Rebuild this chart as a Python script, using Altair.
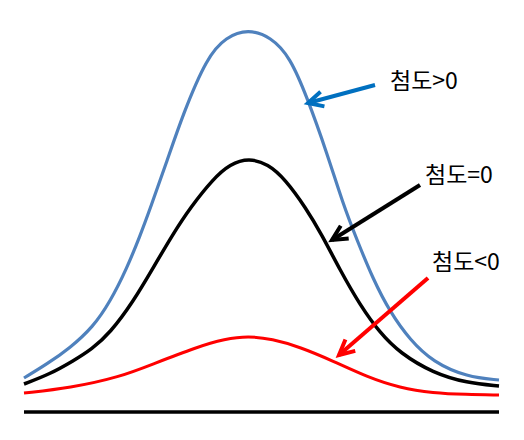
import math
import altair as alt
import pandas as pd

# points (pixel-like units)
blue_x = [24, 47, 70, 93, 110, 127, 140, 150, 167, 183, 207, 226, 248, 271, 290, 307, 327, 343, 357, 373, 390, 410, 433, 467, 499]
blue_y = [378, 364, 348, 327, 302, 268, 236, 209, 161, 114, 57, 37, 29, 37, 57, 97, 153, 204, 240, 279, 312, 340, 362, 377, 380]

black_x = [24, 50, 73, 92, 110, 133, 153, 173, 190, 213, 230, 249, 268, 285, 306, 322, 340, 360, 380, 400, 433, 467, 499]
black_y = [384, 374, 361, 349, 333, 302, 268, 234, 208, 179, 164, 158, 164, 179, 208, 235, 270, 305, 333, 353, 373, 383, 386]

red_x = [24, 70, 120, 153, 197, 225, 248, 272, 300, 333, 367, 400, 433, 466, 499]
red_y = [393, 388, 377, 364, 347, 339, 336, 339, 347, 361, 377, 388, 393, 394.5, 395]

series_names = ["pos", "zero", "neg"]
series_colors = ["#4F81BD", "#000000", "#FF0000"]
series_widths = [3.2, 3.5, 3.0]

# baseline
base_x = [24, 499]
base_y = [412, 412]

# annotations
labels = ["첨도>0", "첨도=0", "첨도<0"]
label_x = [390, 425, 432]
label_y = [82, 176, 263]
arrow_x = [375, 420, 428]
arrow_y = [85, 185, 278]
tip_x = [308, 332, 339]
tip_y = [103, 240, 355]
arrow_colors = ["#0070C0", "#000000", "#FF0000"]

rows = []
for name, color, w, cx, cy in zip(series_names, series_colors, series_widths,
                                 [blue_x, black_x, red_x], [blue_y, black_y, red_y]):
    for i, (x, y) in enumerate(zip(cx, cy)):
        rows.append({"series": name, "x": x, "y": y, "color": color, "w": w, "o": i})
curves = pd.DataFrame(rows)

base_df = pd.DataFrame({"x": base_x, "y": base_y})

ang = []
for ax_, ay_, tx_, ty_ in zip(arrow_x, arrow_y, tip_x, tip_y):
    a = math.degrees(math.atan2(tx_ - ax_, -(ty_ - ay_)))
    ang.append(a % 360)

ann = pd.DataFrame({
    "label": labels, "lx": label_x, "ly": label_y,
    "ax": arrow_x, "ay": arrow_y, "tx": tip_x, "ty": tip_y,
    "color": arrow_colors, "angle": ang,
})

xscale = alt.Scale(domain=[8, 516], zero=False, nice=False)
yscale = alt.Scale(domain=[8, 432], zero=False, nice=False, reverse=True)

lines = alt.Chart(curves).mark_line(interpolate="basis").encode(
    x=alt.X("x:Q", scale=xscale, axis=None),
    y=alt.Y("y:Q", scale=yscale, axis=None),
    detail="series:N",
    order="o:Q",
    color=alt.Color("color:N", scale=None),
    strokeWidth=alt.StrokeWidth("w:Q", scale=None),
)

base = alt.Chart(base_df).mark_line(color="#000000", strokeWidth=3.5).encode(
    x=alt.X("x:Q", scale=xscale, axis=None),
    y=alt.Y("y:Q", scale=yscale, axis=None),
)

shafts = alt.Chart(ann).mark_rule(strokeWidth=4).encode(
    x=alt.X("ax:Q", scale=xscale, axis=None),
    y=alt.Y("ay:Q", scale=yscale, axis=None),
    x2="tx:Q",
    y2="ty:Q",
    color=alt.Color("color:N", scale=None),
)

heads = alt.Chart(ann).mark_point(
    shape="M -0.5 1 L 0 0 L 0.5 1", filled=False, strokeWidth=4, size=900,
    opacity=1, strokeJoin="miter",
).encode(
    x=alt.X("tx:Q", scale=xscale, axis=None),
    y=alt.Y("ty:Q", scale=yscale, axis=None),
    color=alt.Color("color:N", scale=None),
    angle=alt.Angle("angle:Q", scale=None),
)

texts = alt.Chart(ann).mark_text(
    align="left", baseline="middle", font="Noto Sans CJK KR", fontSize=23, color="#000000",
).encode(
    x=alt.X("lx:Q", scale=xscale, axis=None),
    y=alt.Y("ly:Q", scale=yscale, axis=None),
    text="label:N",
)

chart = alt.layer(lines, base, shafts, heads, texts).properties(
    width=508, height=424, padding=0, autosize=alt.AutoSizeParams(type="none"),
    background="#ffffff",
).configure_view(stroke=None)

chart.save("out.html", embed_options={"renderer": "svg", "actions": False})
